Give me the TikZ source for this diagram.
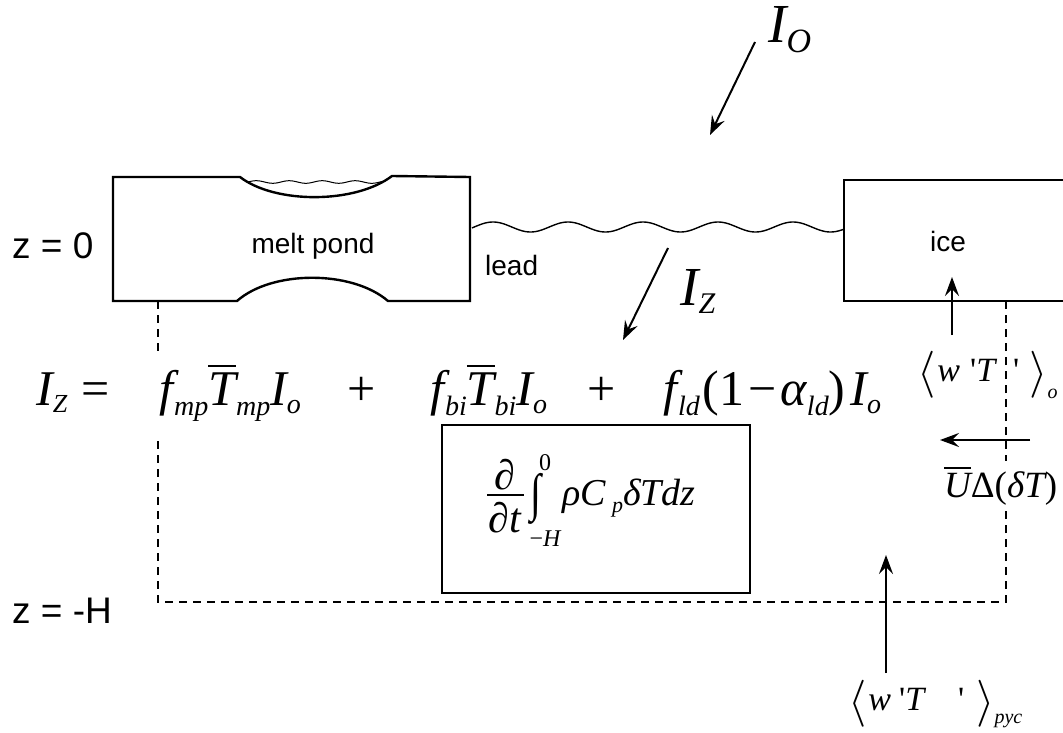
\documentclass[tikz,border=0pt]{standalone}
\usepackage{fontspec}
\usepackage{graphicx}
\setmainfont{Liberation Sans}
\newfontfamily\tms{Liberation Serif}[Ligatures=TeXOff]
\usetikzlibrary{arrows.meta}
\newcommand\fs[1]{\fontsize{#1}{#1}\selectfont}
\newcommand\mi[1]{{\itshape #1}}
\newcommand\sbs[3]{\raisebox{-#1pt}{\fs{#2}\itshape #3}}
\newcommand\ob[3]{\leavevmode\vbox{\hrule height #1pt\kern #2pt\hbox{#3}}}
\newcommand\lang{\raisebox{-5pt}{\resizebox*{!}{47pt}{$\langle$}}}
\newcommand\rang{\raisebox{-5pt}{\resizebox*{!}{47pt}{$\rangle$}}}
\begin{document}
\begin{tikzpicture}[x=1pt,y=-1pt,
  box/.style={line width=2.4pt},
  arr/.style={line width=2pt,-{Stealth[length=19pt,width=14pt,inset=7pt]}},
  dsh/.style={line width=2pt,dash pattern=on 8pt off 6pt},
  sans/.style={font=\fs{28}, inner sep=0pt},
  zlab/.style={font=\fs{37}, inner sep=0pt, anchor=base west},
  eq/.style={font=\tms\fs{50}, inner sep=0pt, anchor=base west},
  lab/.style={font=\tms\fs{34}, inner sep=0pt, anchor=base west},
  frm/.style={font=\tms\fs{38}, inner sep=0pt}]
\useasboundingbox (0,0) rectangle (1063,733);
% dashed control volume
\draw[dsh] (158,301) -- (158,602) -- (1006,602) -- (1006,301);
% melt pond floe
\draw[box] (113,177) -- (240,177) .. controls (275,204) and (355,204) .. (392,176)
  -- (470,177) -- (470,301) -- (388,301)
  .. controls (352,270) and (272,270) .. (237,301) -- (113,301) -- cycle;
\draw[line width=1pt] plot[domain=248:382,samples=60] (\x,{182-1.3*sin((\x-248)*10.91)});
% ice floe
\draw[box] (1063,180) -- (844,180) -- (844,301) -- (1063,301);
% lead surface
\draw[line width=1.4pt] plot[domain=472:844,samples=200] (\x,{227-5*cos((\x-493)*4.8)});
% texts
\node[sans, anchor=base] (mp) at (313,253) {melt pond};
\node[sans, anchor=base west] (lead) at (485,275) {lead};
\node[sans, anchor=base] (ice) at (948,251) {ice};
\node[zlab] (z0) at (12,258) {z = 0};
\node[zlab] (zH) at (12,623) {z = -H};
% radiation arrows
\coordinate (io1) at (755,42); \coordinate (io2) at (710,135);
\draw[arr] (io1) -- (io2);
\node[eq, font=\tms\fs{55}] (Io) at (768,43) {\mi{I}\sbs{10}{34}{O}};
\coordinate (iz1) at (668,248); \coordinate (iz2) at (623,340);
\draw[arr] (iz1) -- (iz2);
\node[eq, font=\tms\fs{55}] (Iz) at (680,305) {\mi{I}\sbs{8}{30}{Z}};
% equation
\node[eq] (e0) at (36,405) {\mi{I}\sbs{7}{26}{Z}\hspace{14pt}=};
\node[eq, fill=white, inner xsep=2pt, inner ysep=14pt] (e1) at (157,405)
  {\mi{f}\kern1pt\sbs{10}{28}{mp}\ob{2}{5}{\mi{T}}\sbs{10}{28}{mp}\mi{I}\sbs{8}{28}{o}};
\node[eq, anchor=base] (p1) at (362,405) {+};
\node[eq] (e2) at (430,405)
  {\mi{f}\kern1pt\sbs{10}{28}{bi}\ob{2}{5}{\mi{T}}\sbs{10}{28}{bi}\mi{I}\sbs{8}{28}{o}};
\node[eq, anchor=base] (p2) at (602,405) {+};
\node[eq] (e3) at (663,405)
  {\mi{f}\kern1pt\sbs{10}{28}{ld}\hspace{3pt}(1\hspace{4pt}−\hspace{4pt}\mi{α}\sbs{10}{28}{ld})\hspace{5pt}\mi{I}\sbs{8}{28}{o}};
% storage box
\node[draw, line width=2pt, minimum width=308pt, minimum height=168pt] (sbox) at (596,509) {};
\node[frm, font=\tms\fs{42}, anchor=base] (dn) at (505,489) {∂};
\draw[line width=2pt] (487,495) -- (524,495);
\node[frm, font=\tms\fs{42}, anchor=base] (dd) at (505,532) {∂\mi{t}};
\node[frm, font=\tms\fs{40}] (int) at (536,499) {\scalebox{1}[1.3]{∫}};
\node[frm, font=\tms\fs{24}, anchor=base] (ul) at (545,470) {0};
\node[frm, font=\tms\fs{24}, anchor=base] (ll) at (545,546) {−\mi{H}};
\node[frm, anchor=base west] (rest) at (562,505) {\mi{ρC\,\sbs{7}{22}{p}δTdz}};
% right side fluxes
\coordinate (wo1) at (952,335); \coordinate (wo2) at (952,277);
\draw[arr] (wo1) -- (wo2);
\node[lab] (wto) at (917,381)
  {\lang\hspace{2pt}\mi{w}\hspace{10pt}'\mi{T}\hspace{18pt}'\hspace{10pt}\rang\sbs{17}{20}{o}};
\coordinate (u1) at (1030,440); \coordinate (u2) at (940,440);
\draw[arr] (u1) -- (u2);
\node[lab, font=\tms\fs{37}, fill=white, inner xsep=1pt, inner ysep=6pt] (ud) at (943,497)
  {\ob{1.6}{4}{\mi{U}}Δ(\mi{δT})};
\coordinate (wp1) at (886,673); \coordinate (wp2) at (886,555);
\draw[arr] (wp1) -- (wp2);
\node[lab] (wtp) at (848,710)
  {\lang\hspace{2pt}\mi{w}\hspace{8pt}'\mi{T}\hspace{34pt}'\hspace{12pt}\rang\sbs{13}{20}{pyc}};
\end{tikzpicture}
\end{document}
